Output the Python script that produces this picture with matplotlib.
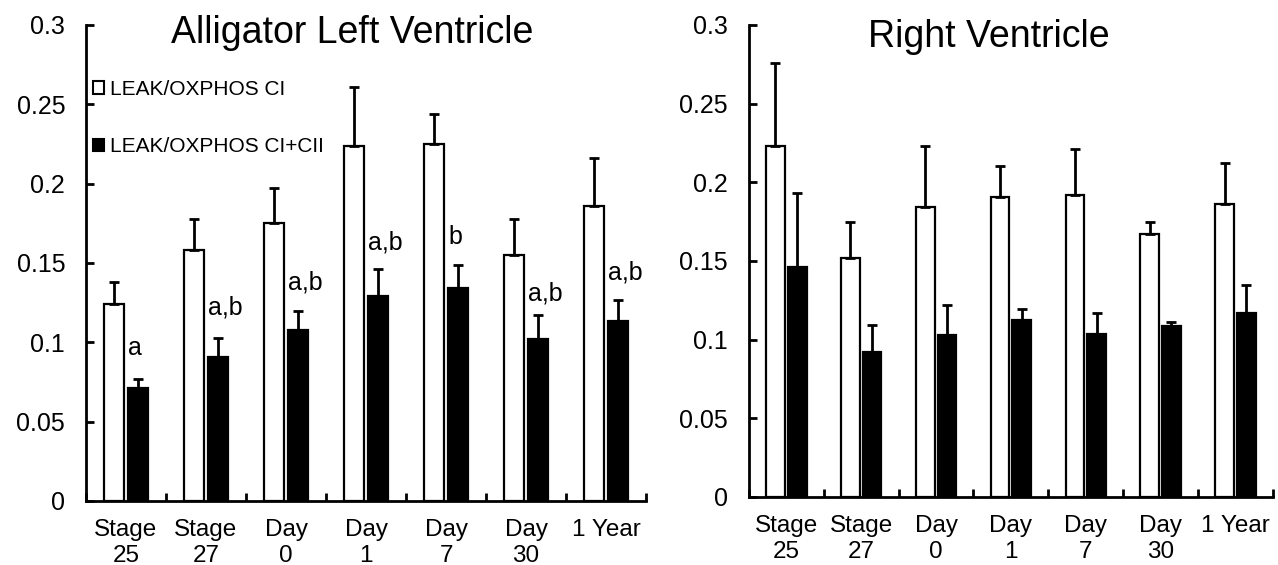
import matplotlib
matplotlib.use("Agg")
import matplotlib.pyplot as plt
from matplotlib.patches import Patch
import numpy as np

plt.rcParams['font.family'] = ['Liberation Sans', 'DejaVu Sans']

categories = ["Stage\n25", "Stage\n27", "Day\n0", "Day\n1", "Day\n7", "Day\n30", "1 Year"]
series_names = ["LEAK/OXPHOS CI", "LEAK/OXPHOS CI+CII"]

# Left ventricle
lv_ci = [0.124, 0.158, 0.175, 0.224, 0.225, 0.155, 0.186]
lv_ci_err = [0.014, 0.020, 0.022, 0.037, 0.019, 0.023, 0.030]
lv_cii = [0.071, 0.091, 0.108, 0.129, 0.134, 0.102, 0.1135]
lv_cii_err = [0.006, 0.012, 0.012, 0.017, 0.015, 0.015, 0.013]
lv_letters = ["a", "a,b", "a,b", "a,b", "b", "a,b", "a,b"]
lv_letter_y = [0.0965, 0.122, 0.138, 0.163, 0.1665, 0.131, 0.144]

# Right ventricle
rv_ci = [0.223, 0.152, 0.184, 0.1905, 0.192, 0.167, 0.186]
rv_ci_err = [0.053, 0.023, 0.039, 0.020, 0.029, 0.008, 0.026]
rv_cii = [0.146, 0.092, 0.103, 0.1125, 0.1035, 0.1087, 0.117]
rv_cii_err = [0.047, 0.017, 0.019, 0.0072, 0.0137, 0.0027, 0.0176]

fig = plt.figure(figsize=(12.78, 5.65), dpi=100)
axL = fig.add_axes([0.0673, 0.1133, 0.4382, 0.8425])
axR = fig.add_axes([0.586, 0.1204, 0.410, 0.8354])

def draw(ax, ci, ci_err, cii, cii_err, title, title_x, title_y, ypad):
    x = np.arange(len(categories)) + 0.5
    w = 0.25
    ekw = dict(elinewidth=2, capthick=2, ecolor='black')
    ax.bar(x - 0.145, ci, w, color='white', edgecolor='black', linewidth=1.6,
           yerr=[np.zeros(len(ci)), ci_err], capsize=3.3, error_kw=ekw, zorder=2)
    ax.bar(x + 0.145, cii, w, color='black', edgecolor='black', linewidth=1.6,
           yerr=[np.zeros(len(cii)), cii_err], capsize=3.3, error_kw=ekw, zorder=2)
    ax.set_xlim(0, len(categories))
    ax.set_ylim(0, 0.3)
    ax.spines['top'].set_visible(False)
    ax.spines['right'].set_visible(False)
    ax.spines['left'].set_linewidth(2)
    ax.spines['bottom'].set_linewidth(2)
    ax.set_yticks([0, 0.05, 0.1, 0.15, 0.2, 0.25, 0.3])
    ax.set_yticklabels(["0", "0.05", "0.1", "0.15", "0.2", "0.25", "0.3"])
    ax.tick_params(axis='y', direction='in', length=6, width=2, labelsize=18, pad=ypad)
    ax.set_xticks(np.arange(0, len(categories) + 1))
    ax.set_xticklabels([])
    ax.tick_params(axis='x', which='major', direction='in', length=6, width=2)
    ax.set_xticks(x, minor=True)
    ax.set_xticklabels(categories, minor=True, fontsize=17.5, va='top', linespacing=1.25)
    ax.tick_params(axis='x', which='minor', length=0, pad=13)
    ax.text(title_x, title_y, title, transform=ax.transAxes, ha='center', va='center',
            fontsize=27)
    return x

x = draw(axL, lv_ci, lv_ci_err, lv_cii, lv_cii_err, "Alligator Left Ventricle", 0.475, 0.983, 15)
for xi, t, yv in zip(x, lv_letters, lv_letter_y):
    axL.text(xi + 0.03, yv, t, ha='left', va='center', fontsize=18)

draw(axR, rv_ci, rv_ci_err, rv_cii, rv_cii_err, "Right Ventricle", 0.458, 0.975, 15)

handles = [Patch(facecolor='white', edgecolor='black', linewidth=1.5),
           Patch(facecolor='black', edgecolor='black', linewidth=1.5)]
leg = axL.legend(handles, series_names, loc='upper left', bbox_to_anchor=(0.012, 0.885),
                 frameon=False, fontsize=15, handlelength=0.55, handleheight=0.55,
                 handletextpad=0.3, labelspacing=1.85, borderaxespad=0, borderpad=0)

fig.savefig("out.png", dpi=100)
